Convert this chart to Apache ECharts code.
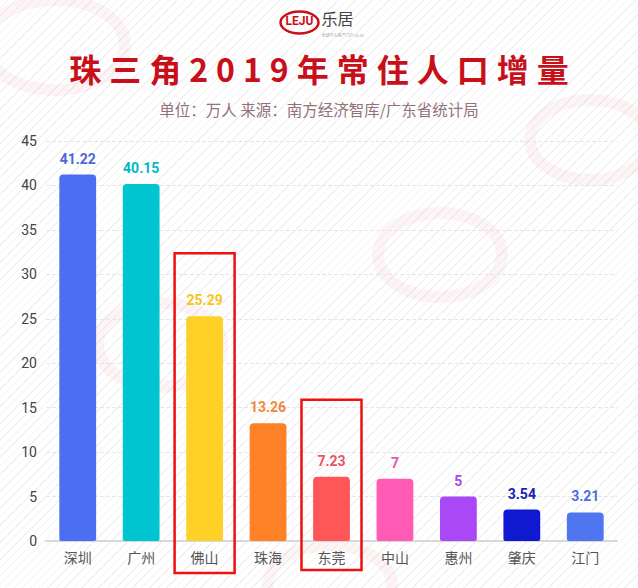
<!DOCTYPE html>
<html><head><meta charset="utf-8">
<script src="https://cdn.jsdelivr.net/npm/echarts@6/dist/echarts.min.js"></script>
<style>
html,body{margin:0;padding:0;}
#wrap{width:638px;height:588px;position:relative;background-color:#fff;
background-image:repeating-linear-gradient(135deg, rgba(0,0,0,0) 0px, rgba(0,0,0,0) 5px, rgba(205,205,205,0.28) 5px, rgba(205,205,205,0.28) 6px);}
#chart{width:638px;height:588px;position:absolute;left:0;top:0;}
</style></head>
<body><div id="wrap"><div id="chart"></div></div>
<script>
const categories = ['深圳','广州','佛山','珠海','东莞','中山','惠州','肇庆','江门'];
const values = [41.22, 40.15, 25.29, 13.26, 7.23, 7, 5, 3.54, 3.21];
const barColors = ['#4b6ff0','#00c5d1','#ffd126','#ff8229','#ff5757','#ff5bb5','#aa48f5','#1018d0','#4f76ee'];
const labelColors = ['#4a68d8','#00b9c8','#f5c51c','#f08a3a','#e85565','#e45aa8','#a84ae6','#1a22b0','#4a6fe0'];
const yTicks = [0,5,10,15,20,25,30,35,40,45];
const highlighted = ['佛山','东莞'];
const titleText = '珠三角2019年常住人口增量';
const subText = '单位：万人 来源：南方经济智库/广东省统计局';

const chart = echarts.init(document.getElementById('chart'), null, {renderer:'svg'});
const wm = [];
// faint watermark rings
[[55,45,70,45],[160,345,62,42],[440,255,62,42],[590,140,60,40],[330,585,62,40]].forEach(function(p){
  wm.push({type:'ellipse',shape:{cx:p[0],cy:p[1],rx:p[2],ry:p[3]},style:{fill:'none',stroke:'rgba(215,60,60,0.05)',lineWidth:12},z:-10,silent:true});
});
const logo = {type:'group',left:278,top:9,children:[
      {type:'ellipse',shape:{cx:20,cy:13,rx:19,ry:11},style:{fill:'none',stroke:'#c8101a',lineWidth:2.5}},
      {type:'text',left:6,top:5,style:{text:'LEJU',fill:'#c8101a',font:'bold 12px Roboto'}},
      {type:'text',left:42,top:0,style:{text:'乐居',fill:'#444',font:'16px "Noto Sans CJK SC"'}},
      {type:'text',left:42,top:23,style:{text:'全球华人房产门户 LEJU',fill:'#999',font:'4px "Noto Sans CJK SC"'}}
    ]};
const option = {
  backgroundColor:'transparent',
  animation:false,
  title:[{text:titleText,left:'center',top:47,textStyle:{fontSize:32,fontWeight:'bold',color:'#c8101a',fontFamily:'Noto Sans CJK SC'}},
         {text:subText,left:'center',top:96,textStyle:{fontSize:15.5,fontWeight:'normal',color:'#927277',fontFamily:'Noto Sans CJK SC'}}],
  grid:{left:46,right:21,top:141,bottom:47,containLabel:false},
  xAxis:{type:'category',data:categories,
    axisLine:{lineStyle:{color:'#d8d8d8',width:2}},
    axisTick:{alignWithLabel:true,lineStyle:{color:'#cccccc'}},
    axisLabel:{color:'#555',fontSize:14,margin:9,fontFamily:'Noto Sans CJK SC'}},
  yAxis:{type:'value',min:0,max:45,interval:5,
    axisLine:{show:false},axisTick:{show:false},
    axisLabel:{color:'#444',fontSize:14,margin:9,fontFamily:'Roboto',formatter:function(v){return yTicks.indexOf(v)>=0?String(v):'';}},
    splitLine:{lineStyle:{color:'#e6e6e6',type:'dashed'}}},
  series:[{type:'bar',barWidth:'58%',
    data:values.map(function(v,i){return {value:v,itemStyle:{color:barColors[i],borderRadius:[4,4,2,2]},
      label:{color:labelColors[i]}};}),
    label:{show:true,position:'top',distance:9,fontSize:14,fontWeight:'bold',fontFamily:'Roboto'}}],
  graphic:wm.concat([logo])
};
chart.setOption(option);
// red highlight boxes around selected categories
const boxes = [];
const boxPad = {'佛山':[63,32],'东莞':[77,29]};
highlighted.forEach(function(c){
  const i = categories.indexOf(c);
  const p = chart.convertToPixel({gridIndex:0},[c, values[i]]);
  const base = chart.convertToPixel({gridIndex:0},[c, 0]);
  const top = p[1]-boxPad[c][0];
  boxes.push({type:'rect',shape:{x:p[0]-30,y:top,width:60,height:base[1]+boxPad[c][1]-top},
    style:{fill:'none',stroke:'#ee1111',lineWidth:2.5},z:100});
});
chart.setOption({graphic:wm.concat([logo]).concat(boxes)});
// widen title tracking like the reference, keeping it centred
(function(){
  const texts = document.querySelectorAll('#chart svg text');
  texts.forEach(function(t){
    if (t.textContent === titleText) {
      const w0 = t.getBBox().width;
      const x0 = parseFloat(t.getAttribute('x') || '0');
      t.style.letterSpacing = '8px';
      const w1 = t.getBBox().width;
      const anchor = t.getAttribute('text-anchor');
      let shift = -(w1 - w0) / 2 + 4;
      if (anchor === 'middle') shift = 4;
      else if (anchor === 'end') shift = (w1 - w0) / 2 + 4;
      t.setAttribute('x', x0 + shift);
    }
  });
})();
</script></body></html>
